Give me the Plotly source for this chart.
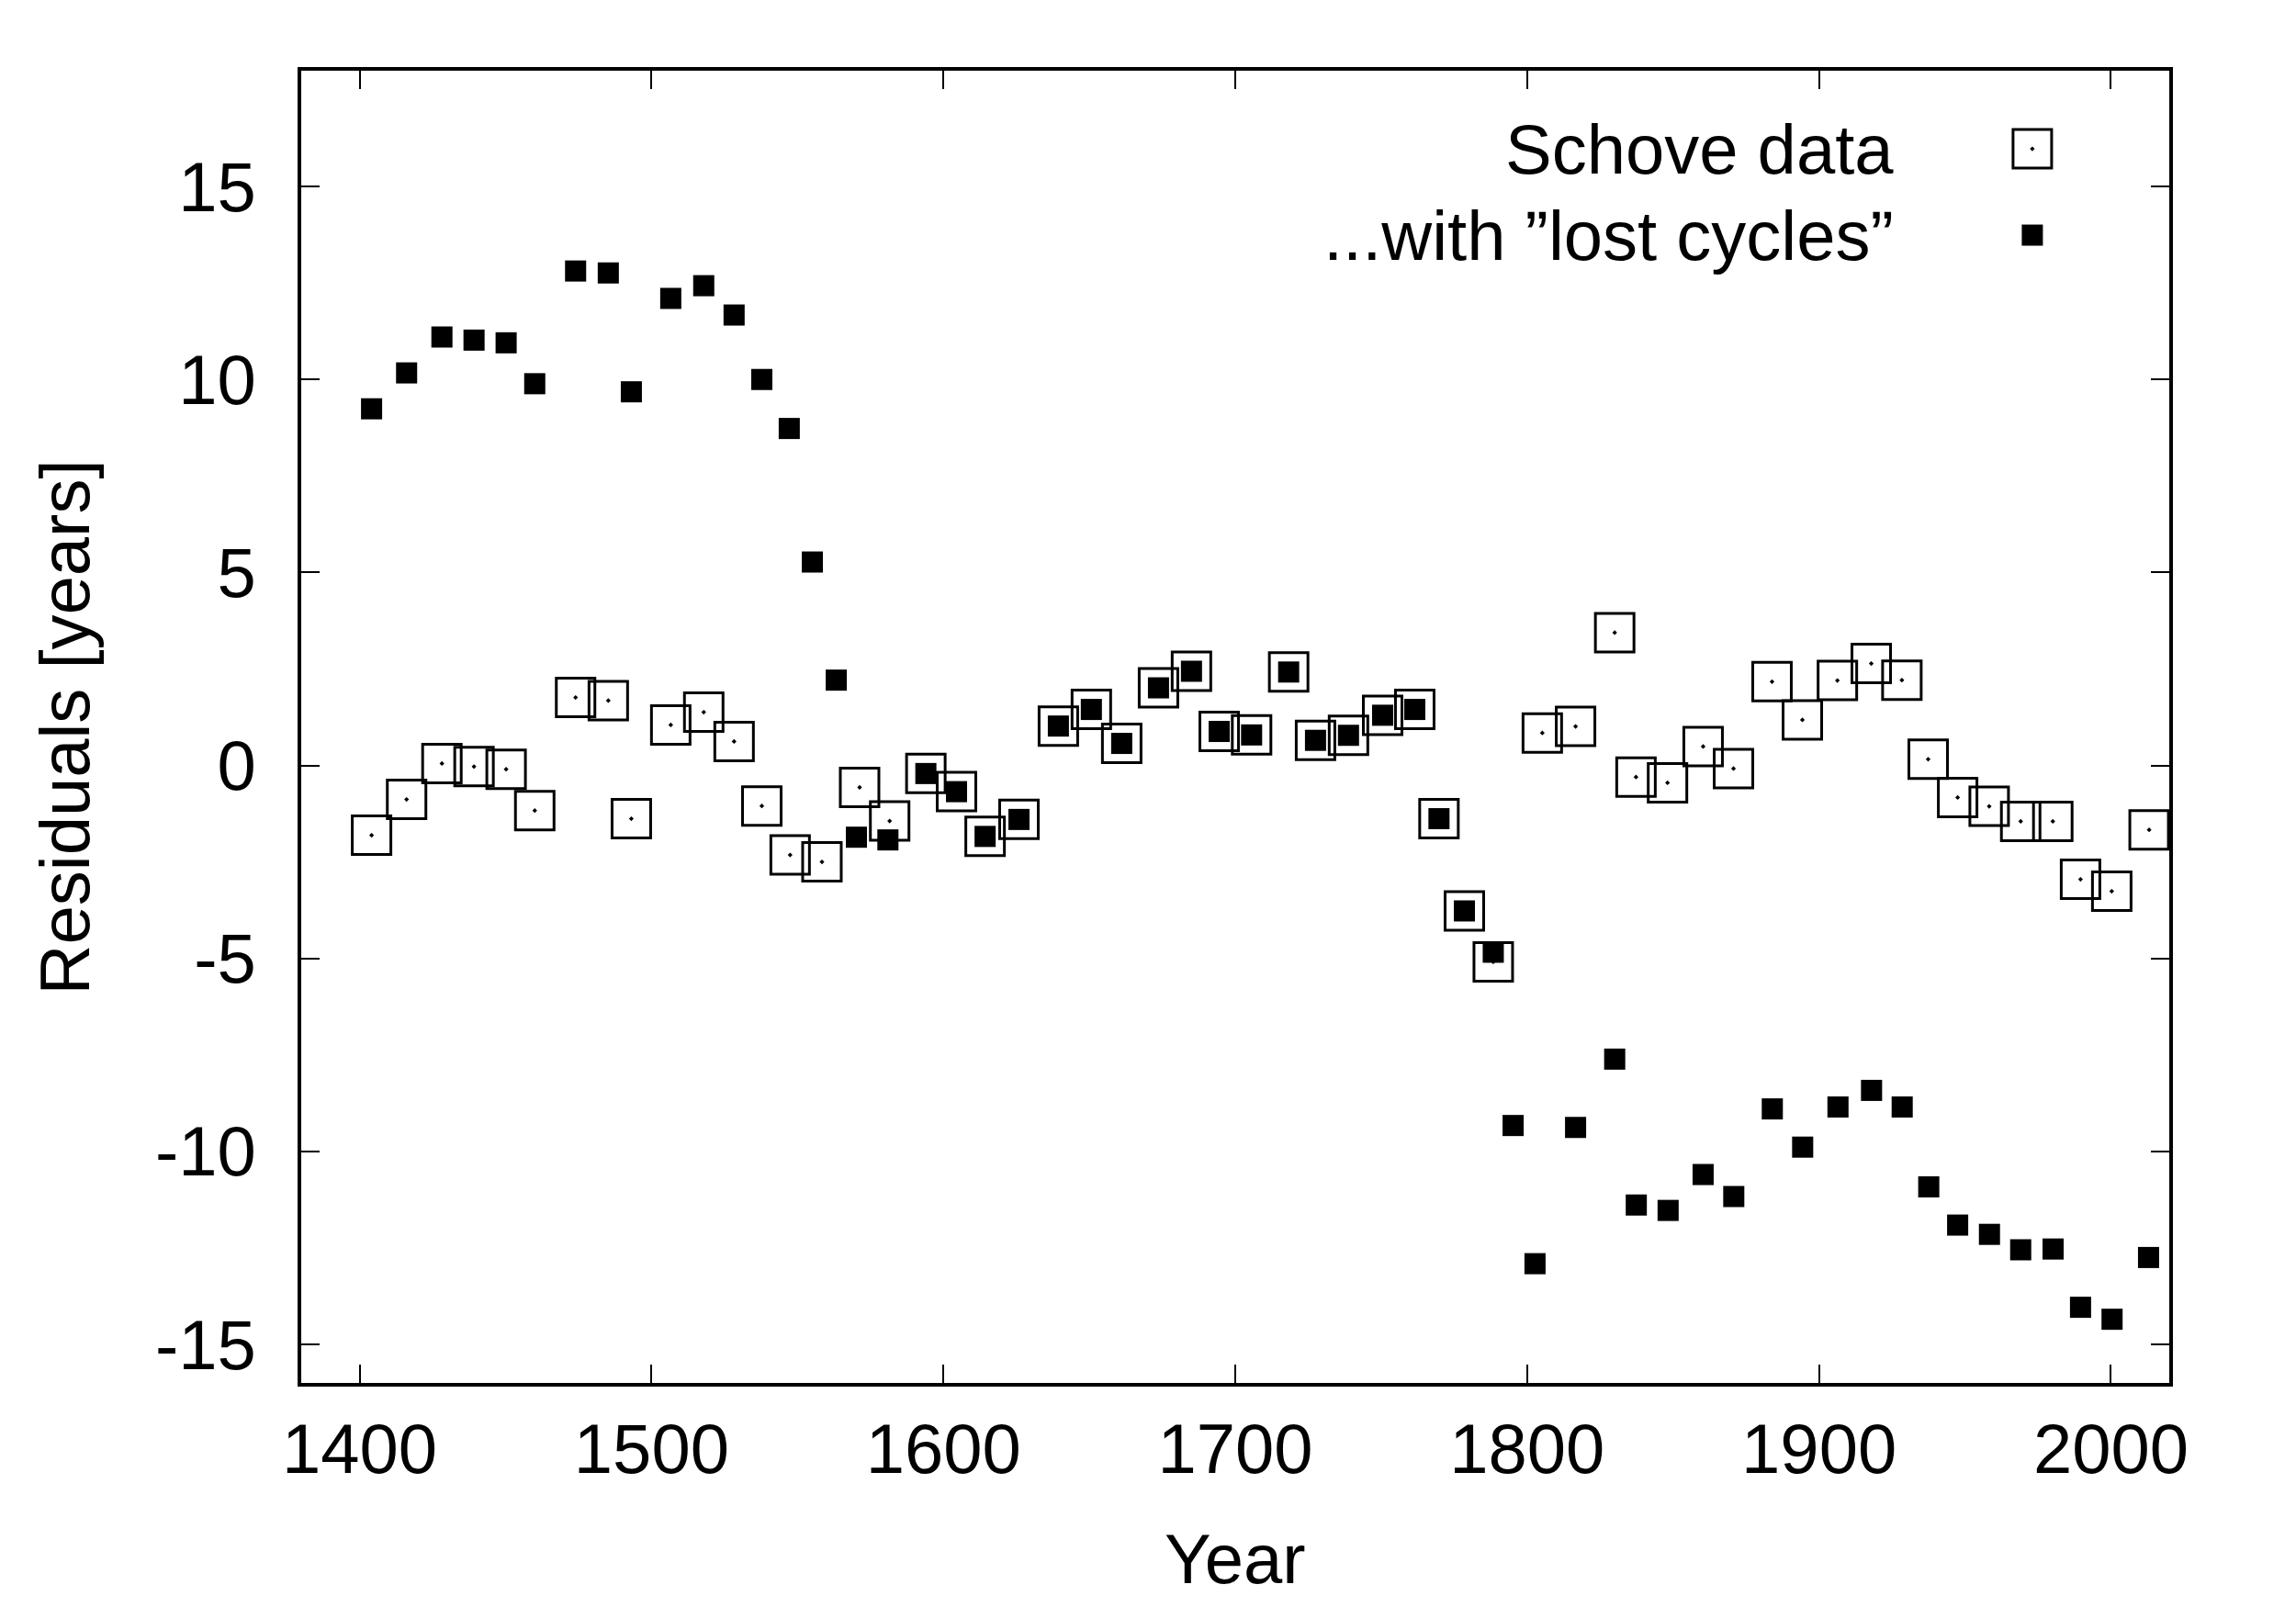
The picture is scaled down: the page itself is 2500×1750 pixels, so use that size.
import plotly.graph_objects as go

# Schove data: cycle epochs (year) and residuals (years)
schove_year = [1404.1, 1416.1, 1428.2, 1439.2, 1450.2, 1460.0, 1474.0, 1485.2, 1493.1, 1506.6,
               1517.9, 1528.3, 1537.8, 1547.5, 1558.4, 1571.3, 1581.6, 1594.0, 1604.5, 1614.3,
               1625.9, 1639.4, 1650.7, 1661.1, 1673.7, 1685.0, 1694.5, 1705.6, 1718.3, 1727.5,
               1738.8, 1750.5, 1761.5, 1769.8, 1778.5, 1788.4, 1805.2, 1816.6, 1830.0, 1837.3,
               1848.1, 1860.3, 1870.7, 1883.9, 1894.3, 1906.3, 1917.9, 1928.4, 1937.4, 1947.5,
               1958.3, 1969.1, 1980.1, 1989.6, 2000.3, 2013.1]
schove_res = [-1.81, -0.88, 0.05, -0.03, -0.10, -1.17, 1.76, 1.68, -1.38, 1.05,
              1.38, 0.62, -1.05, -2.32, -2.50, -0.57, -1.44, -0.21, -0.68, -1.84,
              -1.40, 1.02, 1.45, 0.57, 2.01, 2.44, 0.88, 0.79, 2.42, 0.65,
              0.78, 1.30, 1.45, -1.38, -3.77, -5.09, 0.84, 1.01, 3.44, -0.30,
              -0.45, 0.49, -0.08, 2.17, 1.18, 2.20, 2.64, 2.21, 0.16, -0.83,
              -1.06, -1.45, -1.45, -2.95, -3.26, -1.67]

# ...with "lost cycles"
lost_year = [1404.1, 1416.1, 1428.2, 1439.2, 1450.2, 1460.0, 1474.0, 1485.2, 1493.1, 1506.6,
             1517.9, 1528.3, 1537.8, 1547.2, 1555.1, 1563.3, 1570.2, 1581.0, 1594.0, 1604.5,
             1614.3, 1625.9, 1639.4, 1650.7, 1661.1, 1673.7, 1685.0, 1694.5, 1705.6, 1718.3,
             1727.5, 1738.8, 1750.5, 1761.5, 1769.8, 1778.5, 1788.4, 1795.2, 1802.7, 1816.6,
             1830.0, 1837.4, 1848.3, 1860.3, 1870.8, 1884.0, 1894.4, 1906.5, 1918.0, 1928.5,
             1937.6, 1947.5, 1958.4, 1969.1, 1980.2, 1989.6, 2000.4, 2012.9]
lost_res = [9.24, 10.17, 11.10, 11.02, 10.95, 9.89, 12.81, 12.76, 9.68, 12.10,
            12.43, 11.67, 10.00, 8.73, 5.27, 2.21, -1.86, -1.93, -0.21, -0.68,
            -1.84, -1.40, 1.02, 1.45, 0.57, 2.01, 2.44, 0.88, 0.79, 2.42,
            0.65, 0.78, 1.30, 1.45, -1.38, -3.77, -4.84, -9.33, -12.91, -9.38,
            -7.61, -11.39, -11.53, -10.60, -11.17, -8.90, -9.89, -8.85, -8.42, -8.85,
            -10.92, -11.91, -12.15, -12.55, -12.53, -14.04, -14.35, -12.75]

x_ticks = [1400, 1500, 1600, 1700, 1800, 1900, 2000]
y_ticks = [-15, -10, -5, 0, 5, 10, 15]

FONT = "Liberation Sans, Arial, sans-serif"
FS = 76

open_marker = dict(symbol="square-open-dot", size=42, color="black", line=dict(width=3, color="black"))
filled_marker = dict(symbol="square", size=23, color="black", line=dict(width=0))

fig = go.Figure()
fig.add_trace(go.Scatter(x=schove_year, y=schove_res, mode="markers", marker=open_marker,
                         name="Schove data", showlegend=False))
fig.add_trace(go.Scatter(x=lost_year, y=lost_res, mode="markers", marker=filled_marker,
                         name="...with ”lost cycles”", showlegend=False))

# key: text at left, symbol at right (gnuplot style), on an overlay axis in plot fractions
key_x = 0.9267
key_y = [0.9405, 0.8747]
fig.add_trace(go.Scatter(x=[key_x], y=[key_y[0]], mode="markers", marker=open_marker,
                         xaxis="x2", yaxis="y2", showlegend=False, hoverinfo="skip"))
fig.add_trace(go.Scatter(x=[key_x], y=[key_y[1]], mode="markers", marker=filled_marker,
                         xaxis="x2", yaxis="y2", showlegend=False, hoverinfo="skip"))

for txt, yy in zip(["Schove data", "...with ”lost cycles”"], key_y):
    fig.add_annotation(text=txt, xref="paper", yref="paper", x=0.8535, y=yy,
                       xanchor="right", yanchor="middle", showarrow=False,
                       font=dict(family=FONT, size=FS, color="black"))

fig.add_annotation(text="Year", xref="paper", yref="paper", x=0.5, y=-0.134,
                   xanchor="center", yanchor="middle", showarrow=False,
                   font=dict(family=FONT, size=FS, color="black"))
fig.add_annotation(text="Residuals [years]", xref="paper", yref="paper", x=-0.1264, y=0.5,
                   xanchor="center", yanchor="middle", showarrow=False, textangle=-90,
                   font=dict(family=FONT, size=FS, color="black"))

axis_common = dict(showgrid=False, zeroline=False, showline=True, linewidth=4, linecolor="black",
                   mirror="ticks", ticks="inside", ticklen=20, tickwidth=2, tickcolor="black",
                   tickfont=dict(family=FONT, size=FS, color="black"))

# page body has an 8px margin, so the figure is 16px smaller than the window
fig.update_layout(
    width=2484, height=1734,
    margin=dict(l=320, r=130, t=69, b=236),
    paper_bgcolor="white", plot_bgcolor="white",
    showlegend=False,
    xaxis=dict(range=[1380, 2020], tickvals=x_ticks, ticktext=[str(v) for v in x_ticks],
               ticklabelstandoff=3, **axis_common),
    yaxis=dict(range=[-16, 18], tickvals=y_ticks, ticktext=[str(v) for v in y_ticks],
               ticklabelstandoff=30, **axis_common),
    xaxis2=dict(overlaying="x", range=[0, 1], visible=False),
    yaxis2=dict(overlaying="y", range=[0, 1], visible=False),
)

fig.write_html("out.html")
